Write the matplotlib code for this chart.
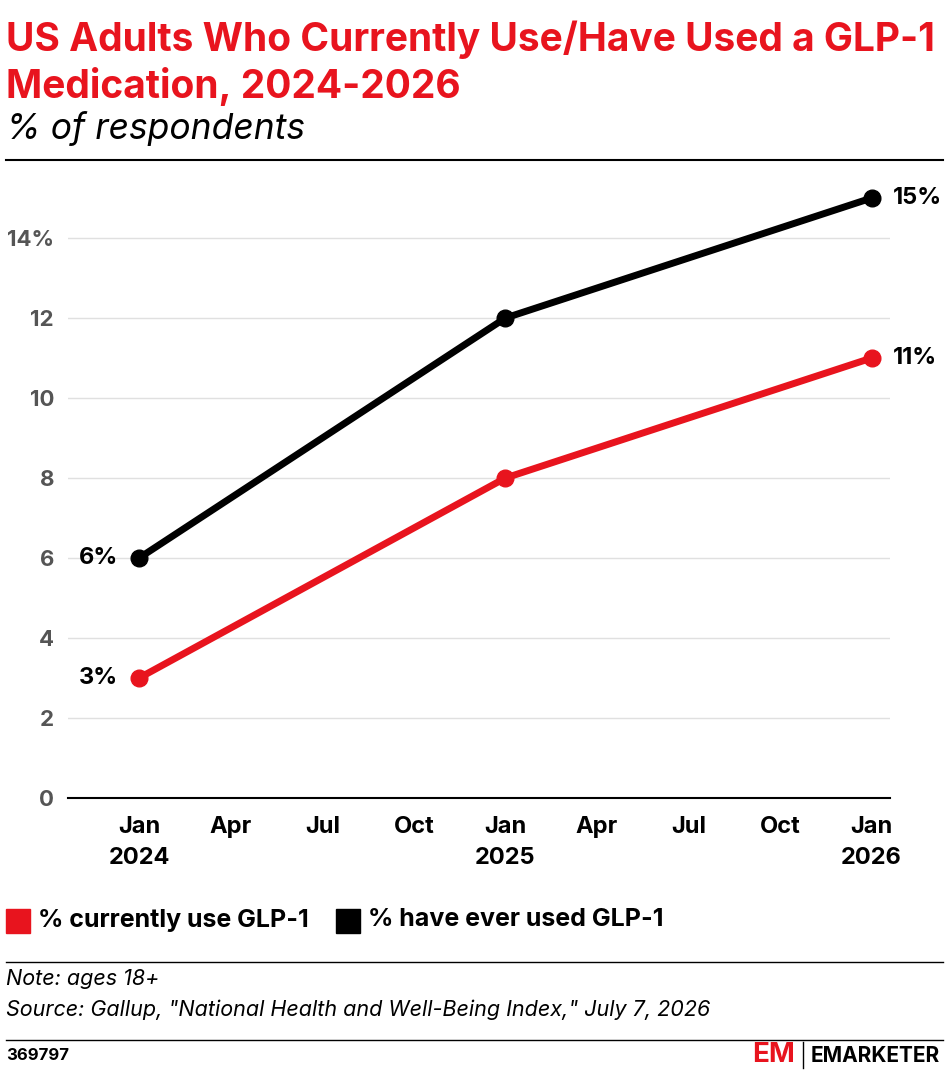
import matplotlib
matplotlib.use("Agg")
import matplotlib.pyplot as plt
from matplotlib.lines import Line2D

plt.rcParams['font.family'] = ['Inter', 'DejaVu Sans']

months = [0, 12, 24]  # months since Jan 2024
current_use = [3, 8, 11]
ever_used = [6, 12, 15]
xtick_pos = [0, 3, 6, 9, 12, 15, 18, 21, 24]
xtick_labels = ["Jan\n2024", "Apr", "Jul", "Oct", "Jan\n2025", "Apr", "Jul", "Oct", "Jan\n2026"]
yticks = [0, 2, 4, 6, 8, 10, 12, 14]
ytick_labels = ["0", "2", "4", "6", "8", "10", "12", "14%"]

RED = "#e8141e"
W, H = 948, 1076
fig = plt.figure(figsize=(W/100, H/100), dpi=100)

def fx(p): return p / W
def fy(p): return 1 - p / H

ax = fig.add_axes([fx(68), fy(798), fx(890 - 68), (798 - 160) / H])
ax.plot(months, ever_used, color="black", lw=5, marker="o", ms=12, solid_capstyle="round", zorder=3)
ax.plot(months, current_use, color=RED, lw=5, marker="o", ms=12, solid_capstyle="round", zorder=3)
ax.set_xlim(-2.33, 24.6)
ax.set_ylim(0, 15.95)
ax.set_yticks(yticks)
ax.set_yticklabels(ytick_labels)
ax.set_xticks(xtick_pos)
ax.set_xticklabels(xtick_labels)
ax.grid(axis="y", color="#e0e0e0", lw=1)
ax.set_axisbelow(True)
for s in ["top", "right", "left"]:
    ax.spines[s].set_visible(False)
ax.spines["bottom"].set_color("black")
ax.spines["bottom"].set_linewidth(1.5)
ax.tick_params(axis="y", length=0, labelsize=16, labelcolor="#555555", pad=10)
for lab in ax.get_yticklabels():
    lab.set_fontweight("bold")
ax.tick_params(axis="x", length=0, labelsize=17, pad=13)
for lab in ax.get_xticklabels():
    lab.set_fontweight("bold")
    lab.set_linespacing(1.55)

# value labels
for i, side in [(0, -1), (-1, 1)]:
    for ser in (ever_used, current_use):
        ax.annotate(f"{ser[i]}%", (months[i], ser[i]), xytext=(15 * side, 0), textcoords="offset points",
                    ha="right" if side < 0 else "left", va="center", fontsize=17, fontweight="bold",
                    annotation_clip=False)

# title
fig.text(fx(6), fy(40), "US Adults Who Currently Use/Have Used a GLP-1", color=RED, fontsize=28,
         fontweight="bold", va="center")
fig.text(fx(6), fy(86), "Medication, 2024-2026", color=RED, fontsize=28, fontweight="bold", va="center")
fig.text(fx(6), fy(129), "% of respondents", fontsize=25.5, style="italic", va="center")

def hline(y, lw=1.5):
    fig.add_artist(Line2D([fx(6), fx(943)], [fy(y), fy(y)], color="black", lw=lw))
hline(160)
hline(962, 1)
hline(1040, 1)

# legend
fig.patches.append(plt.Rectangle((fx(6), fy(933)), fx(24), 24/H, color=RED, transform=fig.transFigure))
fig.text(fx(38), fy(920), "% currently use GLP-1", fontsize=18, fontweight="bold", va="center")
fig.patches.append(plt.Rectangle((fx(336), fy(933)), fx(24), 24/H, color="black", transform=fig.transFigure))
fig.text(fx(368), fy(920), "% have ever used GLP-1", fontsize=18, fontweight="bold", va="center")

fig.text(fx(6), fy(979), "Note: ages 18+", fontsize=15.5, style="italic", va="center")
fig.text(fx(6), fy(1010), 'Source: Gallup, "National Health and Well-Being Index," July 7, 2026',
         fontsize=15.5, style="italic", va="center")
fig.text(fx(6), fy(1056), "369797", fontsize=12, fontweight="bold", va="center")
fig.text(fx(752), fy(1055), "EM", color=RED, fontsize=20, fontweight="bold", va="center")
fig.add_artist(Line2D([fx(803), fx(803)], [fy(1042), fy(1068)], color="black", lw=1))
fig.text(fx(811), fy(1056), "EMARKETER", fontsize=15, fontweight="bold", va="center")

fig.savefig("out.png", dpi=100)
